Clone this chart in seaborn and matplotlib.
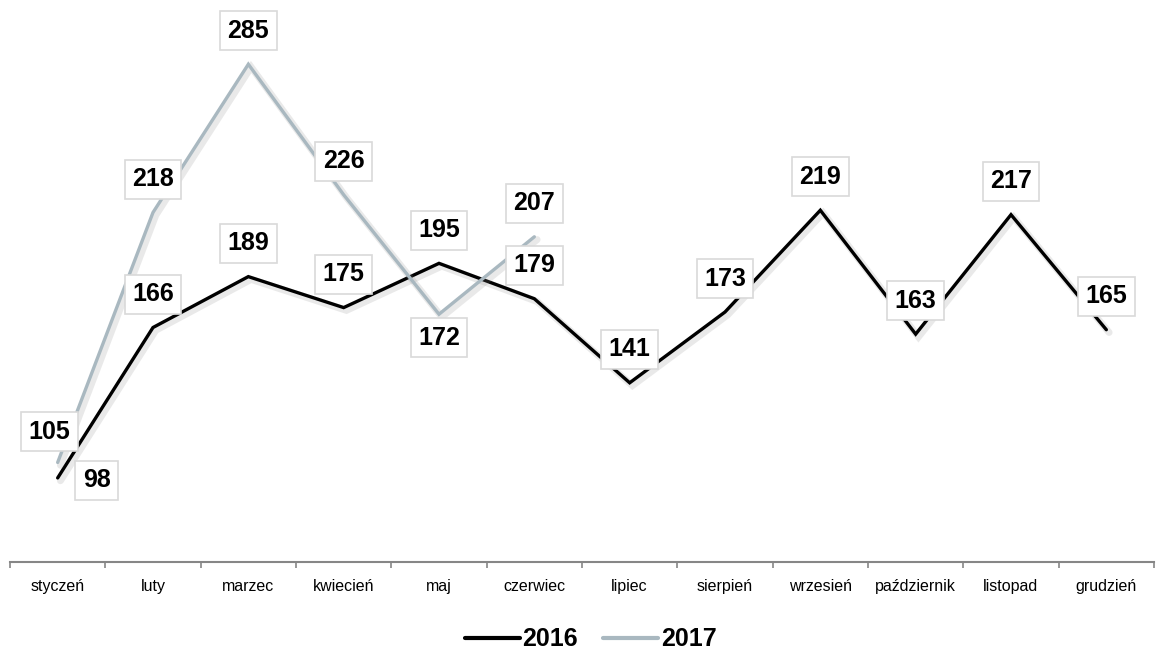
import numpy as np
import pandas as pd
import matplotlib
matplotlib.use('Agg')
import matplotlib.pyplot as plt
import matplotlib.patheffects as pe
import seaborn as sns

months = ["styczeń", "luty", "marzec", "kwiecień", "maj", "czerwiec", "lipiec",
          "sierpień", "wrzesień", "październik", "listopad", "grudzień"]
sales_2016 = [98, 166, 189, 175, 195, 179, 141, 173, 219, 163, 217, 165]
sales_2017 = [105, 218, 285, 226, 172, 207]

# label offsets (points) relative to data point
off_2016 = [(28, -1.5)] + [(0, 24)] * 11
off_2017 = [(-6, 22), (0, 24), (0, 24), (0, 24), (0, -17), (0, 24)]

colors = {"2016": "#000000", "2017": "#a9b8c0"}

df = pd.concat([
    pd.DataFrame({"idx": range(len(sales_2016)), "value": sales_2016, "year": "2016"}),
    pd.DataFrame({"idx": range(len(sales_2017)), "value": sales_2017, "year": "2017"}),
], ignore_index=True)

sns.set_style("white")
plt.rcParams["font.family"] = ["Liberation Sans", "DejaVu Sans"]
plt.rcParams["text.color"] = "black"
plt.rcParams["xtick.color"] = "black"

fig = plt.figure(figsize=(11.56, 6.54), dpi=100)
ax = fig.add_axes([10 / 1156, 92 / 654, 1144 / 1156, 542 / 654])

sns.lineplot(data=df, x="idx", y="value", hue="year", palette=colors,
             linewidth=2.4, sort=False, ax=ax)

shadow = [pe.SimpleLineShadow(offset=(2, -2), shadow_color="#888888", alpha=0.18, linewidth=5),
          pe.Normal()]
for line in ax.lines:
    line.set_path_effects(shadow)
    line.set_solid_joinstyle("miter")

for vals, offs in [(sales_2016, off_2016), (sales_2017, off_2017)]:
    for i, (v, o) in enumerate(zip(vals, offs)):
        ax.annotate(str(v), (i, v), xytext=o, textcoords="offset points",
                    ha="center", va="center", fontsize=18, fontweight="bold",
                    color="black",
                    bbox=dict(boxstyle="square,pad=0.3", fc="white", ec="#d9d9d9", lw=1.2),
                    zorder=5)

ax.set_xlim(-0.5, 11.5)
ax.set_ylim(60, 305)
ax.set_xticks(range(12))
ax.set_xticklabels(months, fontsize=11.5)
ax.set_xticks(np.arange(-0.5, 12, 1), minor=True)
ax.tick_params(axis="x", which="major", bottom=True, length=0, pad=12, colors="black")
ax.tick_params(axis="x", which="minor", bottom=True, length=4, width=1.2, color="#868686")
ax.set_yticks([])
ax.set_xlabel("")
ax.set_ylabel("")
for s in ["left", "right", "top"]:
    ax.spines[s].set_visible(False)
ax.spines["bottom"].set_color("#868686")
ax.spines["bottom"].set_linewidth(1.5)

handles, labels = ax.get_legend_handles_labels()
for h in handles:
    h.set_linewidth(3)
    h.set_path_effects([])
leg = ax.legend(handles, labels, loc="lower center", bbox_to_anchor=(0.511, 0.004),
                bbox_transform=fig.transFigure, ncol=2, frameon=False,
                prop={"size": 18, "weight": "bold"}, handlelength=2.2,
                handletextpad=0.1, columnspacing=1.0, borderpad=0, borderaxespad=0)
for h in leg.get_lines():
    h.set_path_effects([])

fig.savefig("out.png", dpi=100)
